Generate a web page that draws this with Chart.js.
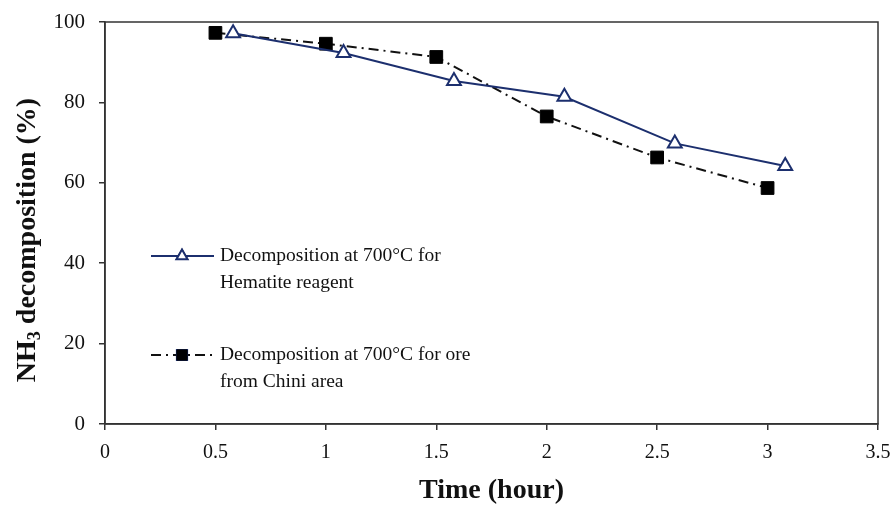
<!DOCTYPE html>
<html>
<head>
<meta charset="utf-8">
<script src="https://cdn.jsdelivr.net/npm/chart.js@4/dist/chart.umd.min.js"></script>
<style>
  html, body { margin: 0; padding: 0; background: #fff; }
  #wrap { width: 891px; height: 505px; position: relative; }
</style>
</head>
<body>
<div id="wrap"><canvas id="chart" width="891" height="505"></canvas></div>
<script>
'use strict';

// Data
const hematiteTime = [0.58, 1.08, 1.58, 2.08, 2.58, 3.08];
const hematiteDecomp = [97.2, 92.3, 85.3, 81.4, 69.8, 64.2];
const chiniTime = [0.5, 1.0, 1.5, 2.0, 2.5, 3.0];
const chiniDecomp = [97.3, 94.6, 91.3, 76.5, 66.3, 58.7];

const xTicks = [0, 0.5, 1, 1.5, 2, 2.5, 3, 3.5];
const yTicks = [0, 20, 40, 60, 80, 100];

const legendLabels = [
  ['Decomposition at 700°C for', 'Hematite reagent'],
  ['Decomposition at 700°C for ore', 'from Chini area']
];

const NAVY = '#1c2f6e';
const SERIF = '"Liberation Serif", "Times New Roman", serif';

function toXY(xs, ys) { return xs.map((x, i) => ({ x: x, y: ys[i] })); }

// frame around plot, y title with real subscript, in-plot legend
const framePlugin = {
  id: 'frame',
  afterDraw(chart) {
    const { ctx, chartArea: a } = chart;
    ctx.save();
    ctx.strokeStyle = '#333';
    ctx.lineWidth = 1.5;
    ctx.strokeRect(a.left, a.top, a.right - a.left, a.bottom - a.top);

    // y axis title: NH3 decomposition (%)
    ctx.save();
    ctx.translate(28, 240);
    ctx.rotate(-Math.PI / 2);
    ctx.fillStyle = '#111';
    ctx.textBaseline = 'middle';
    ctx.textAlign = 'left';
    const big = 'bold 28px ' + SERIF, small = 'bold 18px ' + SERIF;
    ctx.font = big;
    const w1 = ctx.measureText('NH').width;
    const w3 = ctx.measureText(' decomposition (%)').width;
    ctx.font = small;
    const w2 = ctx.measureText('3').width;
    let x = -(w1 + w2 + w3) / 2;
    ctx.font = big;
    ctx.fillText('NH', x, 0);
    x += w1;
    ctx.font = small;
    ctx.fillText('3', x, 7);
    x += w2;
    ctx.font = big;
    ctx.fillText(' decomposition (%)', x, 0);
    ctx.restore();

    // legend
    const rows = [
      { y: 256, ds: chart.data.datasets[0] },
      { y: 355, ds: chart.data.datasets[1] }
    ];
    rows.forEach((r, i) => {
      ctx.save();
      ctx.strokeStyle = r.ds.borderColor;
      ctx.lineWidth = r.ds.borderWidth;
      ctx.setLineDash(r.ds.borderDash || []);
      ctx.beginPath();
      ctx.moveTo(151, r.y);
      ctx.lineTo(214, r.y);
      ctx.stroke();
      ctx.restore();
      Chart.helpers.drawPoint(ctx, {
        pointStyle: r.ds.pointStyle,
        radius: r.ds.pointRadius * 0.8,
        borderWidth: r.ds.pointBorderWidth,
        rotation: 0
      }, 182, r.y);
      ctx.fillStyle = r.ds.pointBackgroundColor;
      ctx.strokeStyle = r.ds.pointBorderColor;
      ctx.lineWidth = r.ds.pointBorderWidth;
      ctx.fill();
      ctx.stroke();

      ctx.fillStyle = '#111';
      ctx.font = '19.5px ' + SERIF;
      ctx.textBaseline = 'middle';
      ctx.textAlign = 'left';
      ctx.fillText(legendLabels[i][0], 220, r.y);
      ctx.fillText(legendLabels[i][1], 220, r.y + 27);
    });
    ctx.restore();
  }
};

new Chart(document.getElementById('chart'), {
  type: 'scatter',
  data: {
    datasets: [
      {
        label: legendLabels[0].join(' '),
        data: toXY(hematiteTime, hematiteDecomp),
        showLine: true,
        borderColor: NAVY,
        borderWidth: 2,
        pointStyle: 'triangle',
        pointRadius: 8,
        pointBackgroundColor: '#fff',
        pointBorderColor: NAVY,
        pointBorderWidth: 2
      },
      {
        label: legendLabels[1].join(' '),
        data: toXY(chiniTime, chiniDecomp),
        showLine: true,
        borderColor: '#111',
        borderWidth: 2,
        borderDash: [10, 5, 2, 5],
        pointStyle: 'rect',
        pointRadius: 9,
        pointBackgroundColor: '#000',
        pointBorderColor: '#000',
        pointBorderWidth: 1
      }
    ]
  },
  options: {
    responsive: false,
    animation: false,
    layout: { padding: { top: 22, right: 13, left: 0, bottom: 0 } },
    plugins: {
      legend: { display: false },
      tooltip: { enabled: false }
    },
    scales: {
      x: {
        type: 'linear',
        min: 0,
        max: 3.5,
        afterBuildTicks(scale) { scale.ticks = xTicks.map(v => ({ value: v })); },
        afterFit(scale) {
          scale.height = 81;
          scale.paddingLeft = 0;
          scale.paddingRight = 0;
        },
        grid: { drawOnChartArea: false, tickLength: 6, color: '#333', lineWidth: 1.5 },
        border: { color: '#333', width: 1.5 },
        ticks: {
          color: '#111',
          font: { family: SERIF, size: 20 },
          padding: 11,
          maxRotation: 0,
          callback: v => String(v)
        },
        title: {
          display: true,
          text: 'Time (hour)',
          color: '#111',
          font: { family: SERIF, size: 28, weight: 'bold', lineHeight: 1 },
          padding: { top: 0, bottom: 0 }
        }
      },
      y: {
        type: 'linear',
        min: 0,
        max: 100,
        afterBuildTicks(scale) { scale.ticks = yTicks.map(v => ({ value: v })); },
        afterFit(scale) {
          scale.width = 105;
          scale.paddingTop = 0;
          scale.paddingBottom = 0;
        },
        grid: { drawOnChartArea: false, tickLength: 6, color: '#333', lineWidth: 1.5 },
        border: { color: '#333', width: 1.5 },
        ticks: {
          color: '#111',
          font: { family: SERIF, size: 21 },
          padding: 14
        },
        title: { display: false }
      }
    }
  },
  plugins: [framePlugin]
});
</script>
</body>
</html>
